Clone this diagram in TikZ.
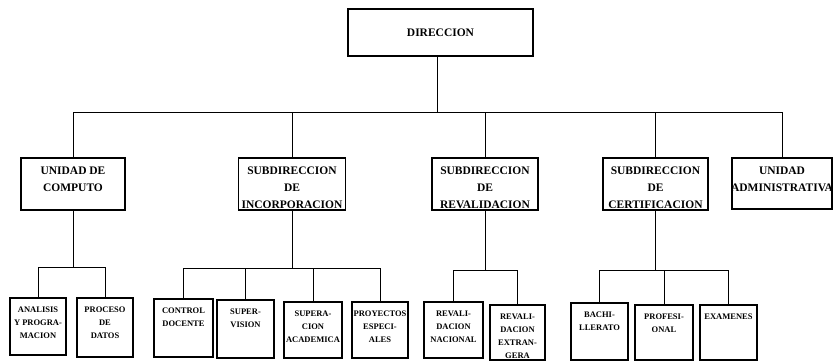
\documentclass[tikz,border=0pt]{standalone}
\usepackage{fontspec}
\setmainfont{Liberation Serif}
\begin{document}
\begin{tikzpicture}[x=1pt,y=-1pt,
  box/.style={draw, line width=1.3pt, inner sep=0pt},
  wire/.style={line width=1pt},
  headtxt/.style={anchor=north, inner sep=0pt, align=center,
    font=\bfseries\fontsize{11.5}{17}\selectfont, yshift=-9.5pt},
  subtxt/.style={anchor=north, inner sep=0pt, align=center,
    font=\bfseries\fontsize{8.5}{13}\selectfont, yshift=-9pt},
]
\useasboundingbox (0,0) rectangle (833,361);

% top level
\node[box, minimum width=185pt, minimum height=47pt,
  font=\bfseries\fontsize{11.5}{14}\selectfont] (dir) at (440.5,32.5) {DIRECCION};

% second level
\node[box, minimum width=104pt, minimum height=52pt,
  label={[headtxt]north:{UNIDAD DE\\COMPUTO}}] (comp) at (73,184) {};
\node[box, minimum width=107pt, minimum height=52pt,
  label={[headtxt]north:{SUBDIRECCION\\DE\\INCORPORACION}}] (incorp) at (292,184) {};
\node[box, minimum width=106pt, minimum height=52pt,
  label={[headtxt]north:{SUBDIRECCION\\DE\\REVALIDACION}}] (reval) at (485,184) {};
\node[box, minimum width=105pt, minimum height=52pt,
  label={[headtxt]north:{SUBDIRECCION\\DE\\CERTIFICACION}}] (cert) at (655.5,184) {};
\node[box, minimum width=100pt, minimum height=51pt,
  label={[headtxt]north:{UNIDAD\\ADMINISTRATIVA}}] (admin) at (782,183.5) {};

% third level
\node[box, minimum width=56pt, minimum height=57pt,
  label={[subtxt]north:{ANALISIS\\Y PROGRA-\\MACION}}] (anal) at (38,326.5) {};
\node[box, minimum width=56pt, minimum height=59pt,
  label={[subtxt]north:{PROCESO\\DE\\DATOS}}] (proc) at (105,327.5) {};
\node[box, minimum width=59pt, minimum height=58pt,
  label={[subtxt]north:{CONTROL\\DOCENTE}}] (ctrl) at (183.5,328) {};
\node[box, minimum width=57pt, minimum height=58pt,
  label={[subtxt]north:{SUPER-\\VISION}}] (supv) at (245.5,329) {};
\node[box, minimum width=58pt, minimum height=56pt,
  label={[subtxt]north:{SUPERA-\\CION\\ACADEMICA}}] (supa) at (313,330) {};
\node[box, minimum width=56pt, minimum height=56pt,
  label={[subtxt]north:{PROYECTOS\\ESPECI-\\ALES}}] (proy) at (380,330) {};
\node[box, minimum width=59pt, minimum height=56pt,
  label={[subtxt]north:{REVALI-\\DACION\\NACIONAL}}] (nac) at (453.5,330) {};
\node[box, minimum width=55pt, minimum height=55pt,
  label={[subtxt]north:{REVALI-\\DACION\\EXTRAN-\\GERA}}] (ext) at (517.5,332.5) {};
\node[box, minimum width=57pt, minimum height=57pt,
  label={[subtxt]north:{BACHI-\\LLERATO}}] (bach) at (599.5,331.5) {};
\node[box, minimum width=58pt, minimum height=55pt,
  label={[subtxt]north:{PROFESI-\\ONAL}}] (prof) at (664,332.5) {};
\node[box, minimum width=57pt, minimum height=55pt,
  label={[subtxt]north:{EXAMENES}}] (exam) at (728.5,332.5) {};

% junction points of the buses
\coordinate (dirdrop) at (437,112);
\coordinate (compbus) at (73,267);
\coordinate (incbus)  at (292,268);
\coordinate (revbus)  at (485,270);
\coordinate (certbus) at (656,270);

% main bus
\draw[wire] (dir.south -| dirdrop) -- (dirdrop);
\draw[wire] (comp.north) |- (admin.north |- dirdrop) -- (admin.north);
\draw[wire] (incorp.north) -- (incorp.north |- dirdrop);
\draw[wire] (reval.north) -- (reval.north |- dirdrop);
\draw[wire] (cert.north) -- (cert.north |- dirdrop);

% computo
\draw[wire] (comp.south) -- (comp.south |- compbus);
\draw[wire] (anal.north) |- (proc.north |- compbus) -- (proc.north);

% incorporacion
\draw[wire] (incorp.south) -- (incorp.south |- incbus);
\draw[wire] (ctrl.north) |- (proy.north |- incbus) -- (proy.north);
\draw[wire] (supv.north) -- (supv.north |- incbus);
\draw[wire] (supa.north) -- (supa.north |- incbus);

% revalidacion
\draw[wire] (reval.south) -- (reval.south |- revbus);
\draw[wire] (nac.north) |- (ext.north |- revbus) -- (ext.north);

% certificacion
\draw[wire] (cert.south) -- (cert.south |- certbus);
\draw[wire] (bach.north) |- (exam.north |- certbus) -- (exam.north);
\draw[wire] (prof.north) -- (prof.north |- certbus);
\end{tikzpicture}
\end{document}
